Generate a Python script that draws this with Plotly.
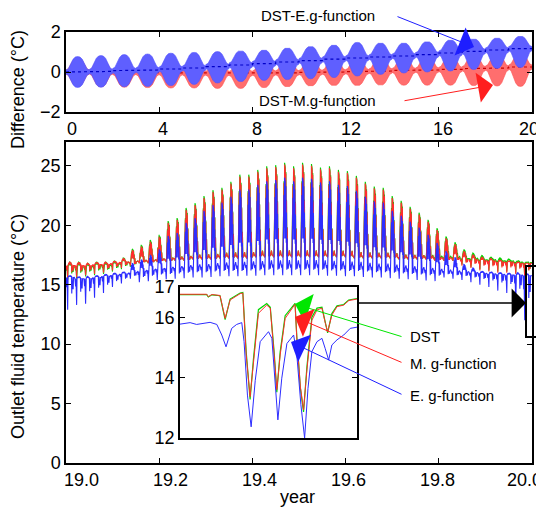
import plotly.graph_objects as go

# ---------------- data: top panel (per simulated year, 0..19) ----------------
years_top = list(range(20))
blue_mid = [0.0, 0.03, 0.07, 0.1, 0.15, 0.2, 0.27, 0.35, 0.42, 0.5, 0.57, 0.64, 0.7, 0.75, 0.8, 0.87, 0.95, 1.03, 1.1, 1.17]
blue_top = [0.77, 0.82, 0.87, 0.9, 0.94, 0.98, 1.02, 1.06, 1.1, 1.2, 1.28, 1.35, 1.48, 1.45, 1.45, 1.52, 1.6, 1.65, 1.7, 1.79]
blue_bot = [-0.77, -0.76, -0.74, -0.72, -0.68, -0.62, -0.55, -0.48, -0.42, -0.38, -0.34, -0.28, -0.2, -0.12, -0.05, 0.0, 0.05, 0.12, 0.18, 0.22]
red_mid = [0.0, 0.0, -0.02, -0.03, -0.04, -0.05, -0.06, -0.07, -0.05, -0.04, -0.02, 0.0, 0.02, 0.05, 0.08, 0.1, 0.13, 0.17, 0.2, 0.25]
red_top = [0.7, 0.7, 0.68, 0.67, 0.66, 0.65, 0.64, 0.63, 0.65, 0.66, 0.68, 0.7, 0.72, 0.75, 0.78, 0.8, 0.83, 0.87, 0.9, 0.95]
red_bot = [-0.72, -0.74, -0.76, -0.78, -0.8, -0.8, -0.82, -0.82, -0.78, -0.74, -0.7, -0.68, -0.68, -0.66, -0.66, -0.66, -0.66, -0.68, -0.7, -0.72]
# seasonal shape of one year's difference band (fraction of the summer bulge)
season_frac = [0.0, 0.1, 0.2, 0.3, 0.4, 0.5, 0.6, 0.7, 0.8, 0.9, 1.0]
season_weight = [0.0, 0.1, 0.45, 0.8, 0.97, 1.0, 0.97, 0.8, 0.45, 0.1, 0.0]
band_half = 0.1

# ---------------- data: main panel (52 weeks of year 19-20) ----------------
red_high = [16.9, 16.9, 16.8, 16.9, 16.9, 17.0, 17.2,
            17.9, 18.2, 18.6, 19.05, 20.2, 20.45, 21.3, 21.7, 22.3, 22.8,
            23.0, 23.5, 24.1, 24.1, 24.5, 24.8, 24.9, 25.1, 24.8, 25.1,
            25.0, 24.7, 24.8, 24.5, 24.4, 24.0, 23.5, 23.1, 23.0, 22.3,
            21.9, 21.4, 20.9, 20.3, 19.6, 18.9, 18.4, 17.8, 17.5,
            17.3, 17.2, 17.1, 17.0, 16.9, 16.8]
green_high = [16.9, 16.9, 16.8, 16.9, 16.9, 17.0, 17.25,
              18.0, 18.35, 18.75, 19.2, 20.35, 20.6, 21.45, 21.85, 22.45, 22.95,
              23.15, 23.65, 24.25, 24.25, 24.65, 24.95, 25.05, 25.25, 24.95, 25.25,
              25.15, 24.85, 24.95, 24.65, 24.55, 24.15, 23.65, 23.25, 23.15, 22.45,
              22.05, 21.55, 21.05, 20.45, 19.75, 19.05, 18.55, 17.95, 17.65,
              17.45, 17.35, 17.25, 17.15, 17.0, 16.9]
blue_high = [15.8, 15.7, 15.7, 15.8, 15.9, 16.0, 16.1,
             16.8, 17.1, 17.5, 17.95, 19.1, 19.35, 20.2, 20.6, 21.2, 21.7,
             21.9, 22.4, 23.0, 23.0, 23.4, 23.7, 23.8, 24.0, 23.7, 24.0,
             23.9, 23.6, 23.7, 23.4, 23.3, 22.9, 22.4, 22.0, 21.9, 21.2,
             20.8, 20.3, 19.8, 19.2, 18.5, 17.8, 17.3, 16.7, 16.4,
             16.15, 16.1, 16.05, 16.0, 16.0, 15.95]
red_base = [16.6, 16.6, 16.6, 16.7, 16.7, 16.8, 16.9,
            16.9, 17.0, 17.0, 17.1, 17.1, 17.2, 17.2, 17.3, 17.3, 17.3,
            17.4, 17.4, 17.4, 17.4, 17.5, 17.5, 17.5, 17.5, 17.5, 17.5,
            17.5, 17.5, 17.5, 17.5, 17.5, 17.4, 17.4, 17.4, 17.4, 17.4,
            17.3, 17.3, 17.3, 17.3, 17.2, 17.2, 17.2, 17.1, 17.1,
            17.0, 17.0, 16.9, 16.9, 16.8, 16.8]
green_base = [16.5, 16.5, 16.5, 16.6, 16.6, 16.7, 16.85,
              16.9, 17.0, 17.0, 17.1, 17.1, 17.2, 17.2, 17.3, 17.3, 17.3,
              17.4, 17.4, 17.4, 17.4, 17.5, 17.5, 17.5, 17.5, 17.5, 17.5,
              17.5, 17.5, 17.5, 17.5, 17.5, 17.4, 17.4, 17.4, 17.4, 17.4,
              17.3, 17.3, 17.3, 17.35, 17.3, 17.3, 17.3, 17.2, 17.2,
              17.1, 17.1, 17.0, 17.0, 16.9, 16.85]
blue_base = [15.6, 15.5, 15.5, 15.6, 15.7, 15.8, 15.9, 16.0, 16.1, 16.2,
             16.3, 16.35, 16.4, 16.45, 16.5, 16.5, 16.55, 16.6, 16.6, 16.6,
             16.65, 16.65, 16.7, 16.7, 16.7, 16.7, 16.7, 16.7, 16.7, 16.65,
             16.65, 16.6, 16.6, 16.55, 16.5, 16.5, 16.45, 16.4, 16.35, 16.3,
             16.25, 16.2, 16.15, 16.1, 16.05, 16.0, 15.95, 15.9, 15.85, 15.8,
             15.8, 15.75]
red_low = [15.5, 15.6, 15.8, 15.9, 16.0, 16.2, 16.4, 16.6,
           16.8, 16.8, 16.9, 16.9, 17.0, 17.0, 17.1, 17.1, 17.1, 17.2, 17.2, 17.2, 17.2,
           17.3, 17.3, 17.3, 17.3, 17.3, 17.3, 17.3, 17.3, 17.3, 17.3, 17.3,
           17.2, 17.2, 17.2, 17.2, 17.2, 17.1, 17.1, 17.1, 17.1, 17.0, 17.0, 17.0,
           16.6, 16.4, 16.2, 16.1, 16.0, 16.0, 15.9, 15.6]
green_low = [15.4, 15.5, 15.7, 15.8, 15.9, 16.1, 16.3, 16.5,
             16.8, 16.8, 16.9, 16.9, 17.0, 17.0, 17.1, 17.1, 17.1, 17.2, 17.2, 17.2, 17.2,
             17.3, 17.3, 17.3, 17.3, 17.3, 17.3, 17.3, 17.3, 17.3, 17.3, 17.3,
             17.2, 17.2, 17.2, 17.2, 17.2, 17.1, 17.1, 17.1, 17.1, 17.0, 17.0, 17.0,
             16.7, 16.5, 16.3, 16.2, 16.1, 16.1, 16.0, 15.6]
blue_low = [12.9, 13.3, 13.4, 13.9, 14.3, 14.8, 15.1, 15.5,
            15.2, 15.3, 15.4, 15.45, 15.5, 15.55, 15.6, 15.6, 15.65, 15.7, 15.7, 15.7,
            15.75, 15.75, 15.8, 15.8, 15.8, 15.8, 15.8, 15.8, 15.8, 15.75, 15.75,
            15.7, 15.7, 15.65, 15.6, 15.6, 15.55, 15.5, 15.45, 15.4, 15.35, 15.3,
            15.6, 15.5, 15.4, 15.2, 15.0, 14.8, 14.5, 14.3, 13.5, 12.0]
# shape of one week of hourly operation (day offset, +share of high / -share of low)
week_day = [0.0, 0.5, 0.8, 1.3, 1.6, 1.8, 2.0, 2.25, 2.5, 2.75, 3.0, 3.25, 3.5, 3.75, 4.0, 4.25, 4.5, 4.8, 5.1, 5.6, 5.9, 6.5]
week_weight = [0.0, -0.3, 0.0, -1.0, 0.1, 0.5, 0.15, 0.8, 0.3, 1.0, 0.35, 0.95, 0.3, 0.9, 0.25, 0.6, -0.5, 0.3, -0.35, -0.35, 0.0, 0.05]

# ---------------- data: inset (last days of year 20) ----------------
inset_m_x = [0, 15.1, 16, 18, 22.6, 25.5, 28.3, 34, 35.5, 37.4, 39.6, 41.5, 44.3, 49, 51, 53.2, 54.7, 56.6, 59.4,
             65, 66, 68, 69.8, 71.7, 74.5, 77.4, 80.2, 82, 83.4, 85.8, 88.7, 92.5, 95.3, 100]
inset_m_y = [16.76, 16.76, 16.68, 16.75, 16.72, 15.96, 16.57, 16.78, 16.8, 14.75, 13.37, 14.53, 16.13, 16.4, 16.3,
             14.75, 13.6, 14.75, 15.96, 16.43, 15.3, 13.7, 12.93, 14.25, 15.9, 16.24, 16.3, 15.83, 15.52, 16.07,
             16.35, 16.4, 16.55, 16.6]
inset_d_y = [16.75, 16.75, 16.67, 16.74, 16.71, 15.92, 16.6, 16.8, 16.82, 14.85, 13.28, 14.62, 16.25, 16.45, 16.33,
             14.85, 13.52, 14.85, 16.05, 16.46, 15.35, 13.65, 12.86, 14.35, 16.0, 16.3, 16.33, 15.86, 15.48, 16.12,
             16.38, 16.42, 16.57, 16.62]
inset_e_x = [0, 5.7, 9.4, 13.2, 17, 20.8, 23.6, 26, 29.2, 32, 34.9, 36.2, 38.1, 40.2, 42.5, 45.3, 50, 51.9, 53.8,
             55.3, 57.5, 60.4, 64.2, 66, 68.3, 70.4, 72.3, 74.5, 77.4, 80.2, 82, 84, 85.8, 88.7, 92.5, 96.2, 100]
inset_e_y = [15.77, 15.82, 15.76, 15.8, 15.83, 15.76, 15.41, 15.02, 15.63, 15.76, 15.82, 15.19, 13.42, 12.37, 13.9,
             15.19, 15.52, 15.3, 13.64, 12.6, 13.98, 15.13, 15.41, 14.75, 13.1, 12.0, 13.64, 14.86, 15.19, 15.3,
             14.97, 14.58, 15.08, 15.25, 15.41, 15.63, 15.67]

top_ticks = [0, 4, 8, 12, 16, 20]
top_ticklabels = ["0", "4", "8", "12", "16", "20"]
main_xticks = [19.0, 19.2, 19.4, 19.6, 19.8, 20.0]
main_xticklabels = ["19.0", "19.2", "19.4", "19.6", "19.8", "20.0"]
main_yticks = [0, 5, 10, 15, 20, 25]
inset_yticks = [12, 14, 16, 17]

# ---------------- build ----------------
FONT = "Liberation Sans, Arial, Helvetica, sans-serif"
BLUE = "rgb(45,45,255)"
RED = "rgb(255,45,45)"
GREEN = "rgb(0,215,0)"

fig = go.Figure()


def band(mid, top, bot):
    ux, uy, lx, ly, cx, cy = [], [], [], [], [], []
    for i, yr in enumerate(years_top):
        for f, w in zip(season_frac, season_weight):
            t = yr + f
            up = mid[i] + band_half + w * (top[i] - mid[i] - band_half)
            lo = mid[i] - band_half - w * (mid[i] - bot[i] - band_half)
            ux.append(t); uy.append(up)
            lx.append(t); ly.append(lo)
            cx.append(t); cy.append(mid[i])
    return ux + lx[::-1], uy + ly[::-1], cx, cy


px_, py_, rcx, rcy = band(red_mid, red_top, red_bot)
fig.add_trace(go.Scatter(x=px_, y=py_, fill="toself", fillcolor="rgb(255,110,110)", mode="lines",
                         line=dict(color="rgb(255,80,80)", width=0.6), xaxis="x", yaxis="y", hoverinfo="skip"))
fig.add_trace(go.Scatter(x=rcx, y=rcy, mode="lines", line=dict(color="rgb(200,0,0)", width=1.2, dash="dot"),
                         xaxis="x", yaxis="y"))
px_, py_, bcx, bcy = band(blue_mid, blue_top, blue_bot)
fig.add_trace(go.Scatter(x=px_, y=py_, fill="toself", fillcolor="rgb(95,95,255)", mode="lines",
                         line=dict(color="rgb(80,80,255)", width=0.6), xaxis="x", yaxis="y", hoverinfo="skip"))
fig.add_trace(go.Scatter(x=bcx, y=bcy, mode="lines", line=dict(color="rgb(0,0,200)", width=1.2, dash="dot"),
                         xaxis="x", yaxis="y"))


def weekly(high, base, low):
    xs, ys = [], []
    for k in range(len(high)):
        for d, w in zip(week_day, week_weight):
            xs.append(19 + (7 * k + d) / 364.0)
            if w >= 0:
                ys.append(base[k] + w * (high[k] - base[k]))
            else:
                ys.append(base[k] + w * (base[k] - low[k]))
    xs.append(20.0)
    ys.append(base[-1])
    return xs, ys


for hi, ba, lo, col in [(green_high, green_base, green_low, GREEN),
                        (red_high, red_base, red_low, RED),
                        (blue_high, blue_base, blue_low, BLUE)]:
    xs, ys = weekly(hi, ba, lo)
    fig.add_trace(go.Scatter(x=xs, y=ys, mode="lines", line=dict(color=col, width=1.1),
                             xaxis="x2", yaxis="y2"))

fig.add_trace(go.Scatter(x=inset_m_x, y=inset_d_y, mode="lines", line=dict(color=GREEN, width=1.2),
                         xaxis="x3", yaxis="y3"))
fig.add_trace(go.Scatter(x=inset_m_x, y=inset_m_y, mode="lines", line=dict(color=RED, width=1),
                         xaxis="x3", yaxis="y3"))
fig.add_trace(go.Scatter(x=inset_e_x, y=inset_e_y, mode="lines", line=dict(color=BLUE, width=1),
                         xaxis="x3", yaxis="y3"))

# page body adds an 8px margin; the figure is sized so the screenshot lines up
OFF = 8
W, H = 544 - OFF, 511 - OFF
L, T, R, B = 66 - OFF, 32 - OFF, 12, 48
pw, ph = W - L - R, H - T - B


def pxx(v):
    return (v - OFF - L) / pw


def pyy(v):
    return (H - B - (v - OFF)) / ph


axis_common = dict(showline=True, linecolor="black", linewidth=1.5, mirror="ticks", ticks="inside",
                   ticklen=5, tickcolor="black", tickwidth=1.2, showgrid=False, zeroline=False,
                   automargin=False, tickfont=dict(family=FONT, size=18, color="black"))

fig.update_layout(
    width=W, height=H, margin=dict(l=L, r=R, t=T, b=B, autoexpand=False),
    paper_bgcolor="white", plot_bgcolor="white", showlegend=False,
    xaxis=dict(axis_common, domain=[0, 1], anchor="y", range=[0, 20], tickvals=top_ticks,
               showticklabels=False),
    yaxis=dict(axis_common, domain=[pyy(112), 1], anchor="x", range=[-2, 2], tickvals=[-2, 0, 2]),
    xaxis2=dict(axis_common, domain=[0, 1], anchor="y2", range=[19, 20], tickvals=main_xticks,
                showticklabels=False),
    yaxis2=dict(axis_common, domain=[0, pyy(142)], anchor="x2", range=[0, 27], tickvals=main_yticks),
    xaxis3=dict(axis_common, domain=[pxx(180), pxx(357)], anchor="y3", range=[0, 100],
                showticklabels=False, ticks=""),
    yaxis3=dict(axis_common, domain=[pyy(438), pyy(287)], anchor="x3", range=[12, 17], tickvals=inset_yticks),
)

ann = []
tf = dict(family=FONT, size=18, color="black")
# x tick labels as text (the original spaces them slightly differently from the ticks)
for lab, cx in zip(top_ticklabels, [72, 163, 257, 351, 443, 529]):
    ann.append(dict(text=lab, x=pxx(cx), y=pyy(129), xref="paper", yref="paper", showarrow=False, font=tf,
                    xanchor="center", yanchor="middle"))
for lab, cx in zip(main_xticklabels, [81, 170, 259, 348, 437, 524]):
    ann.append(dict(text=lab, x=pxx(cx), y=pyy(480), xref="paper", yref="paper", showarrow=False, font=tf,
                    xanchor="center", yanchor="middle"))
ann.append(dict(text="Difference (°C)", x=pxx(18), y=pyy(90), xref="paper", yref="paper", textangle=-90,
                showarrow=False, font=tf, xanchor="center", yanchor="middle"))
ann.append(dict(text="Outlet fluid temperature (°C)", x=pxx(18), y=pyy(327), xref="paper", yref="paper",
                textangle=-90, showarrow=False, font=tf, xanchor="center", yanchor="middle"))
ann.append(dict(text="year", x=pxx(297), y=pyy(497), xref="paper", yref="paper", showarrow=False, font=tf,
                xanchor="center", yanchor="middle"))
lf = dict(family=FONT, size=15, color="black")
ann.append(dict(text="DST-E.g-function", x=pxx(318), y=pyy(15), xref="paper", yref="paper", showarrow=False,
                font=lf, xanchor="center", yanchor="middle"))
ann.append(dict(text="DST-M.g-function", x=pxx(317), y=pyy(100), xref="paper", yref="paper", showarrow=False,
                font=lf, xanchor="center", yanchor="middle"))
for txt, yy in [("DST", 337), ("M. g-function", 363), ("E. g-function", 395)]:
    ann.append(dict(text=txt, x=pxx(408), y=pyy(yy), xref="paper", yref="paper", showarrow=False,
                    font=lf, xanchor="left", yanchor="middle"))

arrows = [((474, 47), (396, 16), "rgb(30,30,255)", 1.0, 5),
          ((493, 85), (403, 101), "rgb(255,30,30)", 1.0, 5),
          ((295, 304), (403, 337), "rgb(0,230,0)", 1.0, 5),
          ((295, 317), (403, 363), "rgb(255,30,30)", 1.0, 5),
          ((291, 342), (403, 395), "rgb(30,30,255)", 1.0, 5),
          ((526, 303), (357, 303), "black", 1.5, 3.2)]
for (tx, ty), (sx, sy), col, aw, asz in arrows:
    ann.append(dict(text="", x=pxx(tx), y=pyy(ty), xref="paper", yref="paper", showarrow=True,
                    ax=sx - tx, ay=sy - ty, arrowcolor=col, arrowwidth=aw, arrowsize=asz, arrowhead=1))
fig.update_layout(annotations=ann)

fig.add_shape(type="rect", xref="paper", yref="paper", x0=pxx(526), x1=pxx(542), y0=pyy(337), y1=pyy(266),
              line=dict(color="black", width=2))

fig.write_html("out.html")
